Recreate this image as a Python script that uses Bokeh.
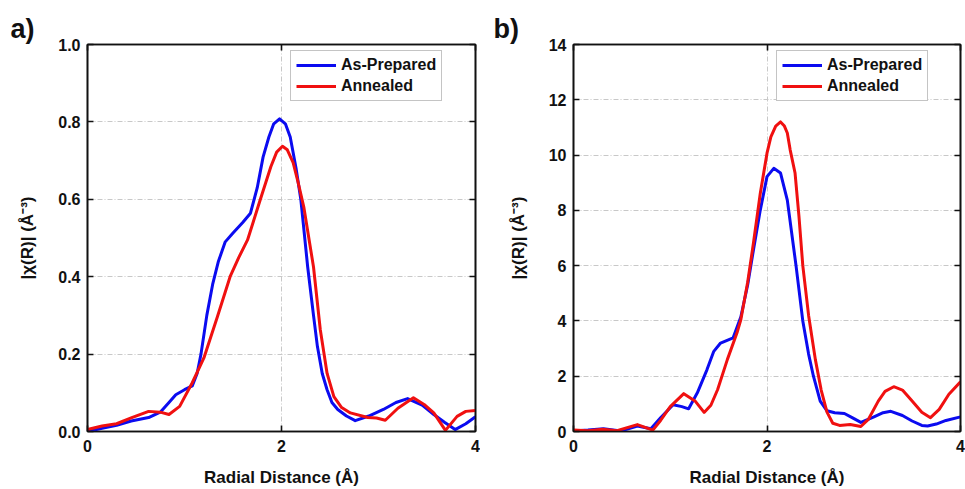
from bokeh.plotting import figure
from bokeh.layouts import row
from bokeh.models import (LinearAxis, FixedTicker, PrintfTickFormatter, Range1d,
                          Legend, LegendItem)
from bokeh.embed import file_html
from bokeh.resources import INLINE

# ---- panel a) : |chi(R)| in Å^-3 ----
a_prep_r = [0.0, 0.15, 0.3, 0.45, 0.63, 0.75, 0.84, 0.91, 1.0, 1.08, 1.13, 1.17, 1.23,
            1.29, 1.35, 1.42, 1.5, 1.6, 1.68, 1.75, 1.81, 1.87, 1.92, 1.98, 2.04, 2.09,
            2.15, 2.2, 2.27, 2.33, 2.37, 2.42, 2.47, 2.52, 2.58, 2.67, 2.76, 2.9, 3.05,
            3.18, 3.3, 3.45, 3.57, 3.68, 3.79, 3.9, 4.0]
a_prep = [0.0, 0.008, 0.016, 0.027, 0.036, 0.05, 0.075, 0.095, 0.108, 0.118, 0.15, 0.2, 0.3,
          0.38, 0.44, 0.49, 0.513, 0.54, 0.564, 0.63, 0.709, 0.761, 0.795, 0.808, 0.795, 0.761,
          0.68, 0.598, 0.425, 0.3, 0.22, 0.15, 0.108, 0.075, 0.057, 0.04, 0.028, 0.04, 0.057,
          0.075, 0.085, 0.068, 0.044, 0.024, 0.005, 0.02, 0.038]

a_ann_r = [0.0, 0.15, 0.3, 0.45, 0.63, 0.75, 0.84, 0.95, 1.08, 1.2, 1.34, 1.47,
           1.56, 1.65, 1.78, 1.89, 1.95, 2.01, 2.06, 2.12, 2.17, 2.23, 2.33, 2.4,
           2.47, 2.54, 2.62, 2.71, 2.89, 2.98, 3.07, 3.2, 3.36, 3.47, 3.57, 3.69,
           3.81, 3.9, 4.0]
a_ann = [0.005, 0.014, 0.02, 0.035, 0.052, 0.05, 0.044, 0.065, 0.126, 0.19, 0.297, 0.4,
         0.45, 0.495, 0.598, 0.684, 0.722, 0.737, 0.728, 0.695, 0.645, 0.58, 0.425, 0.263,
         0.15, 0.09, 0.062, 0.048, 0.036, 0.035, 0.029, 0.06, 0.087, 0.07, 0.048, 0.003,
         0.039, 0.052, 0.054]

a_yticks = [0.0, 0.2, 0.4, 0.6, 0.8, 1.0]

# ---- panel b) ----
b_prep_r = [0.0, 0.15, 0.31, 0.49, 0.66, 0.8, 0.9, 1.03, 1.12, 1.19, 1.28, 1.38,
            1.45, 1.52, 1.65, 1.73, 1.8, 1.86, 1.93, 2.0, 2.07, 2.14, 2.21, 2.3,
            2.37, 2.43, 2.48, 2.55, 2.62, 2.7, 2.8, 2.88, 2.97, 3.1, 3.2, 3.28,
            3.4, 3.5, 3.6, 3.66, 3.75, 3.85, 4.0]
b_prep = [0.02, 0.05, 0.1, 0.02, 0.2, 0.1, 0.5, 0.97, 0.9, 0.82, 1.4, 2.24,
          2.9, 3.2, 3.39, 4.15, 5.3, 6.57, 8.0, 9.22, 9.52, 9.35, 8.37, 6.0,
          4.0, 2.8, 2.0, 1.1, 0.75, 0.68, 0.65, 0.5, 0.33, 0.52, 0.68, 0.73,
          0.58, 0.38, 0.22, 0.2, 0.27, 0.4, 0.53]

b_ann_r = [0.0, 0.15, 0.3, 0.45, 0.66, 0.82, 0.9, 1.0, 1.14, 1.26, 1.35, 1.42,
           1.49, 1.59, 1.69, 1.73, 1.8, 1.86, 1.93, 2.0, 2.04, 2.09, 2.14, 2.18,
           2.21, 2.24, 2.29, 2.33, 2.37, 2.43, 2.5, 2.56, 2.62, 2.68, 2.75, 2.86,
           2.97, 3.05, 3.15, 3.22, 3.31, 3.4, 3.5, 3.6, 3.69, 3.78, 3.88, 4.0]
b_ann = [0.05, 0.03, 0.08, 0.03, 0.25, 0.05, 0.4, 0.9, 1.37, 1.09, 0.69, 0.95,
         1.52, 2.6, 3.57, 4.05, 5.4, 6.82, 8.6, 10.07, 10.66, 11.05, 11.2, 11.05,
         10.8, 10.18, 9.35, 7.8, 6.0, 4.2, 2.6, 1.5, 0.7, 0.3, 0.22, 0.25,
         0.18, 0.45, 1.1, 1.45, 1.62, 1.5, 1.1, 0.7, 0.5, 0.8, 1.35, 1.8]

b_yticks = [0, 2, 4, 6, 8, 10, 12, 14]

x_ticks = [0, 2, 4]

BLUE = "#0b0bf0"
RED = "#f01010"
FONT = "Liberation Sans"


def style_axis(ax, ticks, fmt=None, show_labels=True):
    ax.ticker = FixedTicker(ticks=ticks)
    if fmt is not None:
        ax.formatter = PrintfTickFormatter(format=fmt)
    ax.axis_line_color = "#111111"
    ax.axis_line_width = 1.6
    ax.major_tick_line_color = "#111111"
    ax.major_tick_line_width = 1.6
    ax.major_tick_in = 6
    ax.major_tick_out = 0
    ax.minor_tick_line_color = None
    ax.major_label_text_font = FONT
    ax.major_label_text_font_style = "bold"
    ax.major_label_text_font_size = "16px"
    ax.major_label_text_color = "#111111"
    ax.axis_label_text_font = FONT
    ax.axis_label_text_font_style = "bold"
    ax.axis_label_text_font_size = "17px"
    ax.axis_label_text_color = "#111111"
    if not show_labels:
        # tick marks only on the opposite frame edges
        ax.major_label_text_font_size = "0px"
        ax.major_label_text_color = None
        ax.major_label_standoff = 0


def make_panel(tag, width, left, ymax, yticks, yfmt, prep_r, prep, ann_r, ann, title_offset):
    p = figure(width=width, height=489, output_backend="svg", toolbar_location=None,
               x_range=Range1d(0, 4), y_range=Range1d(0, ymax),
               min_border_left=left, min_border_right=5,
               min_border_top=44, min_border_bottom=57,
               title=tag)
    p.title.text_font = FONT
    p.title.text_font_style = "bold"
    p.title.text_font_size = "27px"
    p.title.align = "left"
    p.title.offset = title_offset
    p.title.standoff = 2
    p.title.text_color = "#111111"

    p.outline_line_color = "#111111"
    p.outline_line_width = 1.6
    p.background_fill_color = "white"
    p.border_fill_color = "white"

    style_axis(p.xaxis[0], x_ticks)
    p.xaxis[0].axis_label = "Radial Distance (Å)"
    p.xaxis[0].major_label_standoff = 8
    p.xaxis[0].axis_label_standoff = 13

    style_axis(p.yaxis[0], yticks, yfmt)
    p.yaxis[0].axis_label = "|χ(R)| (Å⁻³)"
    p.yaxis[0].major_label_standoff = 7
    p.yaxis[0].axis_label_standoff = 18

    top = LinearAxis()
    style_axis(top, x_ticks, show_labels=False)
    p.add_layout(top, "above")
    right = LinearAxis()
    style_axis(right, yticks, show_labels=False)
    p.add_layout(right, "right")

    for g in (p.xgrid[0], p.ygrid[0]):
        g.grid_line_color = "#c8c8c8"
        g.grid_line_dash = "5 2 1 2"
        g.grid_line_width = 1
    p.xgrid[0].ticker = FixedTicker(ticks=x_ticks)
    p.ygrid[0].ticker = FixedTicker(ticks=yticks)

    r1 = p.line(prep_r, prep, line_width=3, line_color=BLUE, line_join="round")
    r2 = p.line(ann_r, ann, line_width=3, line_color=RED, line_join="round")

    legend = Legend(items=[LegendItem(label="As-Prepared", renderers=[r1]),
                           LegendItem(label="Annealed", renderers=[r2])],
                    location=(203, 330))
    legend.label_text_font = FONT
    legend.label_text_font_style = "bold"
    legend.label_text_font_size = "16px"
    legend.label_text_color = "#111111"
    legend.glyph_width = 40
    legend.glyph_height = 18
    legend.label_height = 18
    legend.label_standoff = 5
    legend.spacing = 3
    legend.padding = 5
    legend.margin = 0
    legend.border_line_color = "#8a8a8a"
    legend.border_line_width = 1
    legend.background_fill_alpha = 1
    p.add_layout(legend, "center")
    return p


pa = make_panel("a)", 480, 87, 1.0, a_yticks, "%.1f", a_prep_r, a_prep, a_ann_r, a_ann, -77)
pb = make_panel("b)", 485, 93, 14, b_yticks, None, b_prep_r, b_prep, b_ann_r, b_ann, -80)

layout = row(pa, pb)
open("out.html", "w").write(file_html(layout, INLINE))
